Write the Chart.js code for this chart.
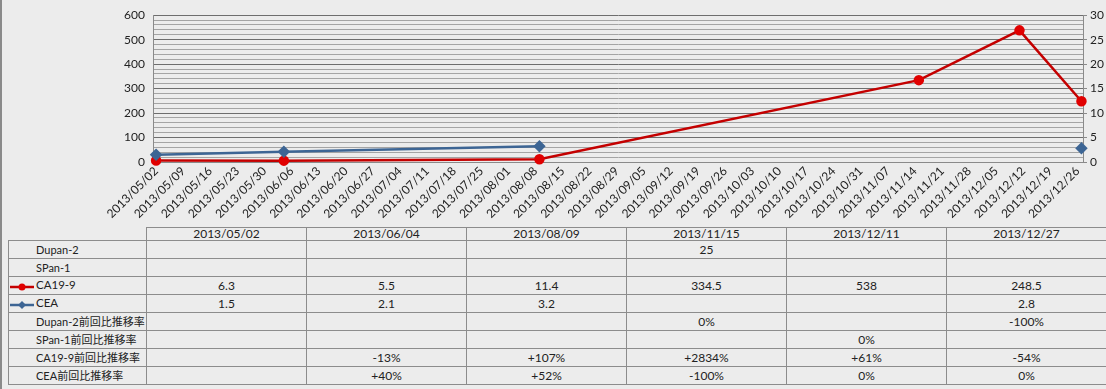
<!DOCTYPE html>
<html>
<head>
<meta charset="utf-8">
<script src="https://cdn.jsdelivr.net/npm/chart.js@4.4.1/dist/chart.umd.min.js"></script>
<style>
  body { margin: 0; background: #ececec; width: 1106px; height: 389px; overflow: hidden; position: relative;
         font-family: Lato, "Noto Sans CJK JP", sans-serif; color: #222; }
  #frame { position: absolute; left: 0; top: 0; width: 2px; height: 389px; background: #8a8a8a; }
  #wrap { position: absolute; left: 0; top: 0; width: 1106px; height: 226px; }
  table { position: absolute; left: 8px; top: 227px; width: 1098px; border-collapse: collapse; table-layout: fixed; font-size: 12px; }
  td { border: 1px solid #8c8c8c; padding: 0; text-align: center; white-space: nowrap; line-height: 12px; }
  tr { height: 18px; }
  tr.head { height: 13px; }
  td.blank { border-top: none; border-left: none; }
  td.name { text-align: left; padding-left: 27px; font-size: 11px; }
  td.key { text-align: left; padding-left: 1px; font-size: 11.5px; }
  svg { vertical-align: middle; margin-right: 2px; }
</style>
</head>
<body>
<div id="frame"></div>
<div id="wrap"><canvas id="chart"></canvas></div>
<table id="tbl"></table>
<script>
// sample dates and measured values
const sampleDates = ["2013/05/02", "2013/06/04", "2013/08/09", "2013/11/15", "2013/12/11", "2013/12/27"];
const dupan2 = [null, null, null, 25, null, null];
const span1 = [null, null, null, null, null, null];
const ca199 = [6.3, 5.5, 11.4, 334.5, 538, 248.5];
const cea = [1.5, 2.1, 3.2, null, null, 2.8];
const dupan2Rate = ["", "", "", "0%", "", "-100%"];
const span1Rate = ["", "", "", "", "0%", ""];
const ca199Rate = ["", "-13%", "+107%", "+2834%", "+61%", "-54%"];
const ceaRate = ["", "+40%", "+52%", "-100%", "0%", "0%"];

// weekly tick labels on the date axis
const weekTicks = [
  "2013/05/02", "2013/05/09", "2013/05/16", "2013/05/23", "2013/05/30",
  "2013/06/06", "2013/06/13", "2013/06/20", "2013/06/27", "2013/07/04",
  "2013/07/11", "2013/07/18", "2013/07/25", "2013/08/01", "2013/08/08",
  "2013/08/15", "2013/08/22", "2013/08/29", "2013/09/05", "2013/09/12",
  "2013/09/19", "2013/09/26", "2013/10/03", "2013/10/10", "2013/10/17",
  "2013/10/24", "2013/10/31", "2013/11/07", "2013/11/14", "2013/11/21",
  "2013/11/28", "2013/12/05", "2013/12/12", "2013/12/19", "2013/12/26"
];
const leftTicks = [0, 100, 200, 300, 400, 500, 600];
const rightTicks = [0, 5, 10, 15, 20, 25, 30];

const RED = "#c40000", RED_PT = "#e00000", BLUE = "#3d6594";

// days since the first sample
const dayOf = s => {
  const [y, m, d] = s.split("/").map(Number);
  return (Date.UTC(y, m - 1, d) - Date.UTC(2013, 4, 2)) / 86400000;
};

const toPoints = vals => sampleDates.map((d, i) => ({ x: dayOf(d), y: vals[i] }));

new Chart(document.getElementById("chart"), {
  type: "line",
  data: {
    datasets: [
      {
        label: "CEA", data: toPoints(cea), yAxisID: "y1",
        borderColor: BLUE, backgroundColor: BLUE, borderWidth: 2.5,
        pointStyle: "rectRot", pointRadius: 4.5, pointBackgroundColor: BLUE, pointBorderColor: BLUE,
        spanGaps: false, clip: false
      },
      {
        label: "CA19-9", data: toPoints(ca199), yAxisID: "y",
        borderColor: RED, backgroundColor: RED_PT, borderWidth: 2.5,
        pointStyle: "circle", pointRadius: 4, pointBackgroundColor: RED_PT, pointBorderColor: RED_PT,
        clip: false
      }
    ]
  },
  options: {
    responsive: true,
    maintainAspectRatio: false,
    animation: false,
    layout: { padding: { top: 5 } },
    plugins: { legend: { display: false }, tooltip: { enabled: false } },
    scales: {
      x: {
        type: "linear", min: -0.8, max: 239.4,
        afterBuildTicks: s => { s.ticks = weekTicks.map(t => ({ value: dayOf(t) })); },
        afterFit: s => { s.height = 64; },
        ticks: {
          autoSkip: false, minRotation: 45, maxRotation: 45, padding: 2,
          color: "#222", font: { family: "Lato", size: 12 },
          callback: (v, i) => weekTicks[i]
        },
        grid: { drawOnChartArea: false, drawTicks: false },
        border: { color: "#8a8a8a" }
      },
      y: {
        position: "left", min: 0, max: 600,
        afterBuildTicks: s => {
          const t = [];
          for (let v = 0; v <= 600; v += 20) t.push({ value: v });
          s.ticks = t;
        },
        afterFit: s => { s.width = 153; },
        ticks: {
          autoSkip: false, padding: 8, color: "#222", font: { family: "Lato", size: 12 },
          callback: v => leftTicks.includes(v) ? v : ""
        },
        grid: {
          drawTicks: false,
          color: ctx => leftTicks.includes(ctx.tick.value) ? "#6e6e6e" : "#a4a4a4"
        },
        border: { color: "#8a8a8a" }
      },
      y1: {
        position: "right", min: 0, max: 30,
        afterBuildTicks: s => { s.ticks = rightTicks.map(v => ({ value: v })); },
        afterFit: s => { s.width = 23; },
        ticks: { padding: 3, color: "#222", font: { family: "Lato", size: 12 } },
        grid: { drawOnChartArea: false, tickLength: 4, color: "#8a8a8a" },
        border: { color: "#8a8a8a" }
      }
    }
  }
});

// data table under the chart
const key = (color, marker) =>
  '<svg width="24" height="10"><line x1="0" y1="5" x2="24" y2="5" stroke="' + color + '" stroke-width="2.5"/>' +
  (marker === "circle"
    ? '<circle cx="12" cy="5" r="3.5" fill="' + RED_PT + '"/>'
    : '<polygon points="12,1 16,5 12,9 8,5" fill="' + color + '"/>') + '</svg>';

const rows = [
  ["Dupan-2", dupan2, null],
  ["SPan-1", span1, null],
  ["CA19-9", ca199, key(RED, "circle")],
  ["CEA", cea, key(BLUE, "diamond")],
  ["Dupan-2前回比推移率", dupan2Rate, null],
  ["SPan-1前回比推移率", span1Rate, null],
  ["CA19-9前回比推移率", ca199Rate, null],
  ["CEA前回比推移率", ceaRate, null]
];

let html = '<colgroup><col style="width:138px">' + sampleDates.map(() => '<col style="width:160px">').join("") + '</colgroup>';
html += '<tr class="head"><td class="blank"></td>' + sampleDates.map(d => "<td>" + d + "</td>").join("") + "</tr>";
rows.forEach(([name, vals, k]) => {
  html += "<tr>" + (k ? '<td class="key">' + k + name + "</td>" : '<td class="name">' + name + "</td>") +
    vals.map(v => "<td>" + (v === null ? "" : v) + "</td>").join("") + "</tr>";
});
document.getElementById("tbl").innerHTML = html;
</script>
</body>
</html>
